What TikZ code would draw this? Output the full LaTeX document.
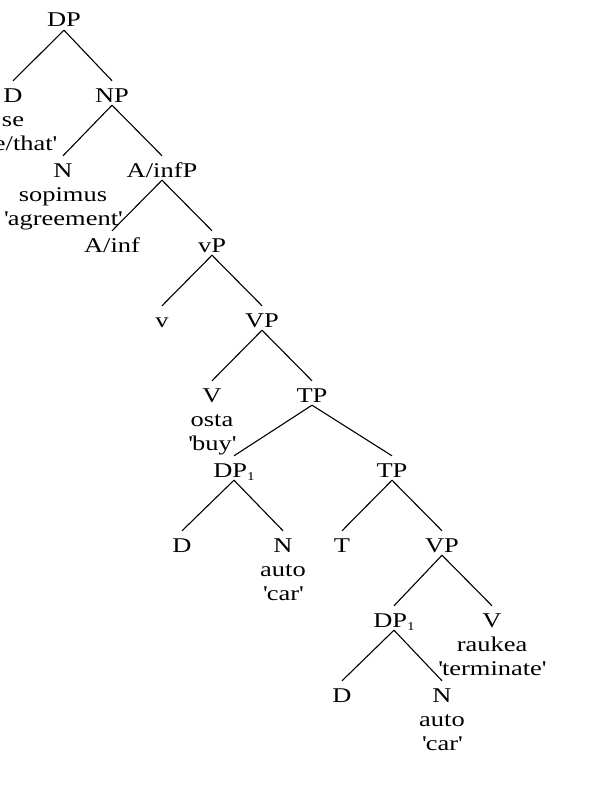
\documentclass[tikz,border=0pt]{standalone}
\usepackage{fontspec}
\setmainfont{Liberation Serif}[FakeStretch=1.26]
\newcommand{\gq}{\textquotesingle}
\newcommand{\sbone}{\raisebox{-3pt}{\fontsize{12}{12}\selectfont 1}}

\begin{document}
\begin{tikzpicture}[x=1pt,y=-1pt,
  every node/.style={font=\fontsize{21}{24}\selectfont},
  cat/.style={inner sep=0pt, text height=21pt, text depth=3pt, anchor=base},
  gloss/.style={inner sep=0pt, anchor=base},
  branch/.style={line width=1.1pt}]
  \useasboundingbox (0,0) rectangle (599,795);
  % categories
  \node[cat] (dp)  at (64,27)   {DP};
  \node[cat] (d1)  at (13,102)  {D};
  \node[cat] (np)  at (112,102) {NP};
  \node[cat] (n1)  at (63,177)  {N};
  \node[cat] (afp) at (162,177) {A/infP};
  \node[cat] (af)  at (112,252) {A/inf};
  \node[cat] (lvp) at (212,252) {vP};
  \node[cat] (lv)  at (162,327) {v};
  \node[cat] (vp1) at (262,327) {VP};
  \node[cat] (v1)  at (212,402) {V};
  \node[cat] (tp1) at (312,402) {TP};
  \node[cat] (dpa) at (234,477) {DP\sbone};
  \node[cat] (tp2) at (392,477) {TP};
  \node[cat] (d2)  at (182,552) {D};
  \node[cat] (n2)  at (283,552) {N};
  \node[cat] (t)   at (342,552) {T};
  \node[cat] (vp2) at (442,552) {VP};
  \node[cat] (dpb) at (394,627) {DP\sbone};
  \node[cat] (v2)  at (492,627) {V};
  \node[cat] (d3)  at (342,702) {D};
  \node[cat] (n3)  at (442,702) {N};
  % glosses
  \node[gloss] (se)    at (13,126)  {se};
  \node[gloss] (that)  at (13,150)  {\gq the/that\gq};
  \node[gloss] (sop)   at (63,201)  {sopimus};
  \node[gloss] (agr)   at (63,225)  {\gq agreement\gq};
  \node[gloss] (osta)  at (212,426) {osta};
  \node[gloss] (buy)   at (212,450) {\gq buy\gq};
  \node[gloss] (auto1) at (283,576) {auto};
  \node[gloss] (car1)  at (283,600) {\gq car\gq};
  \node[gloss] (rauk)  at (492,651) {raukea};
  \node[gloss] (term)  at (492,675) {\gq terminate\gq};
  \node[gloss] (auto2) at (442,726) {auto};
  \node[gloss] (car2)  at (442,750) {\gq car\gq};
  % branches
  \foreach \a/\b in {dp/d1, dp/np, np/n1, np/afp, afp/af, afp/lvp, lvp/lv, lvp/vp1,
                     vp1/v1, vp1/tp1, tp1/dpa, tp1/tp2, dpa/d2, dpa/n2, tp2/t, tp2/vp2,
                     vp2/dpb, vp2/v2, dpb/d3, dpb/n3}
    \draw[branch] (\a.south) -- (\b.north);
\end{tikzpicture}
\end{document}
